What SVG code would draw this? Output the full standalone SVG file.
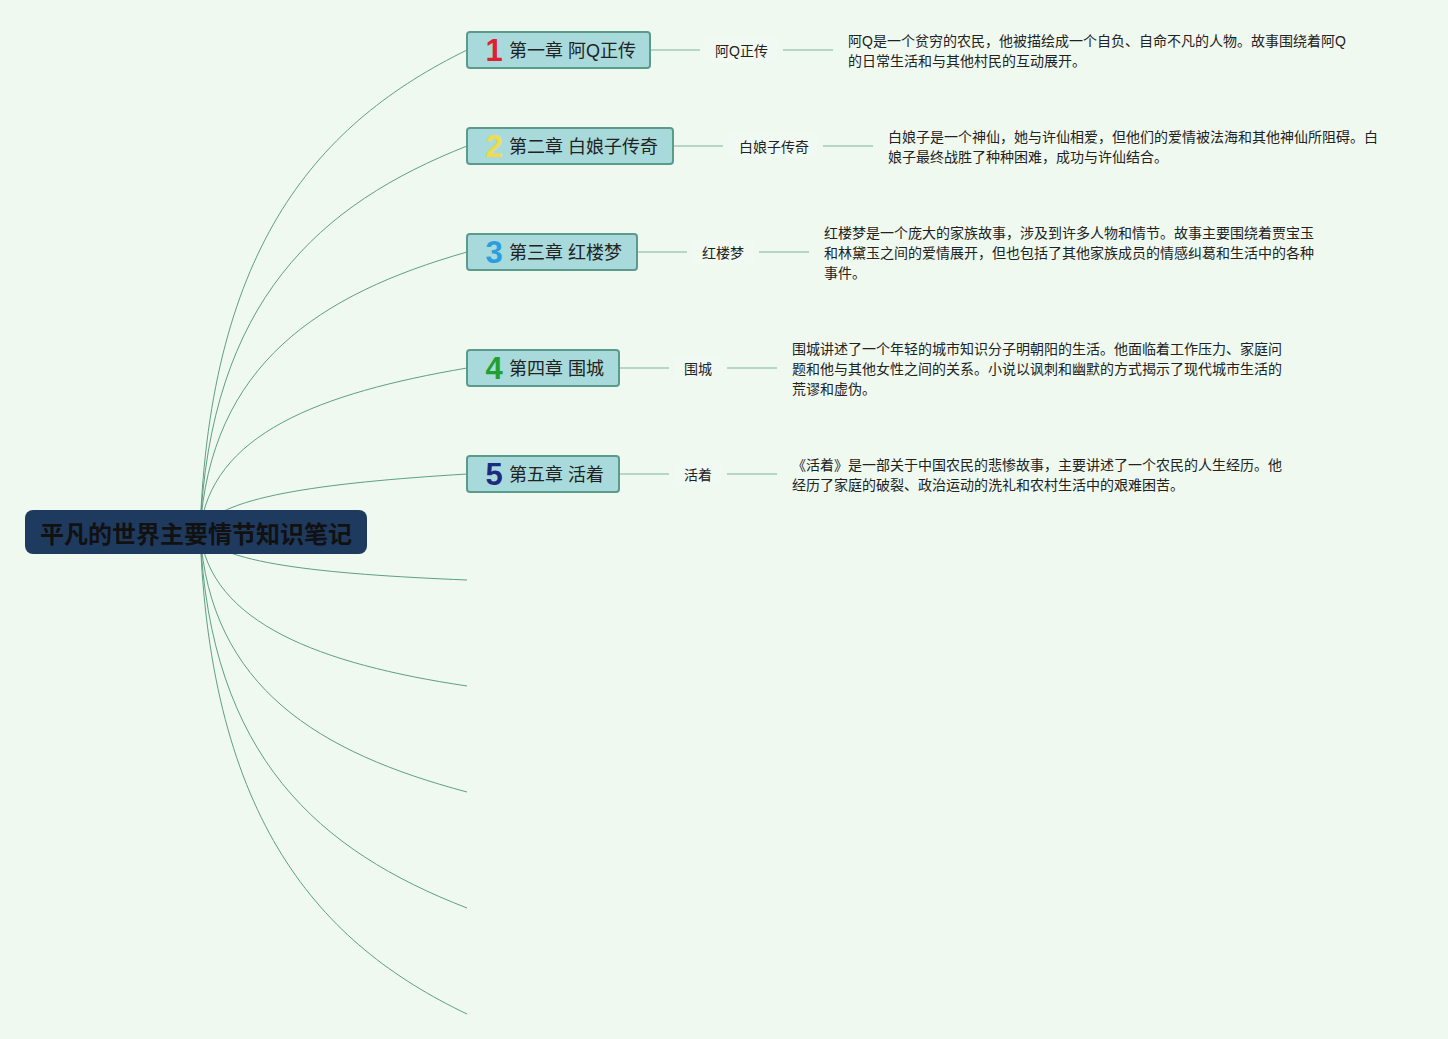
<svg xmlns="http://www.w3.org/2000/svg" width="1448" height="1039" viewBox="0 0 1448 1039">
<style>
.bg{fill:#eff9f0}
.curve{fill:none;stroke:#5f9f82;stroke-width:1}
.link{fill:none;stroke:#a3ccb6;stroke-width:1.5}
.root{fill:#1f3a5f}
.roott{font-family:"Liberation Sans","Noto Sans CJK SC",sans-serif;font-size:24px;font-weight:bold;fill:#111}
.node{fill:#a9dadb;stroke:#5c9b8c;stroke-width:2}
.nt{font-family:"Liberation Sans","Noto Sans CJK SC",sans-serif;font-size:18px;fill:#222}
.num{font-family:"Liberation Sans","DejaVu Sans",sans-serif;font-size:31px;font-weight:bold;text-anchor:middle}
.lb{fill:#f1f9f3}
.lt{font-family:"Liberation Sans","Noto Sans CJK SC",sans-serif;font-size:14px;fill:#222}
.dt{font-family:"Liberation Sans","Noto Sans CJK SC",sans-serif;font-size:14px;fill:#222}
</style>
<rect class="bg" x="0" y="0" width="1448" height="1039"/>
<g id="connectors">
<path class="curve" d="M200 532 C210 243,320 122,467 50"/>
<path class="curve" d="M200 532 C210 300,320 204,467 146"/>
<path class="curve" d="M200 532 C210 364,320 294,467 252"/>
<path class="curve" d="M200 532 C210 434,320 393,467 368"/>
<path class="curve" d="M200 532 C215 497,320 483,467 474"/>
<path class="curve" d="M200 532 C215 563,320 574,467 580"/>
<path class="curve" d="M200 532 C210 623,320 664,467 686"/>
<path class="curve" d="M200 532 C210 688,320 753,467 792"/>
<path class="curve" d="M200 532 C210 758,320 851,467 908"/>
<path class="curve" d="M200 532 C210 821,320 944,467 1014"/>
<path class="link" d="M650 50 H700 M783 50 H833"/>
<path class="link" d="M673 146 H723 M823 146 H873"/>
<path class="link" d="M637 252 H687 M759 252 H809"/>
<path class="link" d="M619 368 H669 M727 368 H777"/>
<path class="link" d="M619 474 H669 M727 474 H777"/>
</g>
<g id="root">
<rect class="root" x="25" y="510" width="342" height="44" rx="8"/>
<text class="roott" x="196" y="543" text-anchor="middle">平凡的世界主要情节知识笔记</text>
</g>
<g id="ch1">
<rect class="node" x="467" y="32" width="183" height="36" rx="3"/>
<text class="num" x="494" y="61" fill="#e01f30">1</text>
<text class="nt" x="509" y="57">第一章 阿Q正传</text>
</g>
<g id="l1">
<rect class="lb" x="705" y="38" width="73" height="24"/>
<text class="lt" x="715" y="56">阿Q正传</text>
</g>
<g id="d1">
<text class="dt" x="848" y="46">阿Q是一个贫穷的农民，他被描绘成一个自负、自命不凡的人物。故事围绕着阿Q</text>
<text class="dt" x="848" y="66">的日常生活和与其他村民的互动展开。</text>
</g>
<g id="ch2">
<rect class="node" x="467" y="128" width="206" height="36" rx="3"/>
<text class="num" x="494" y="157" fill="#f2da4c">2</text>
<text class="nt" x="509" y="153">第二章 白娘子传奇</text>
</g>
<g id="l2">
<rect class="lb" x="728" y="134" width="90" height="24"/>
<text class="lt" x="739" y="152">白娘子传奇</text>
</g>
<g id="d2">
<text class="dt" x="888" y="142">白娘子是一个神仙，她与许仙相爱，但他们的爱情被法海和其他神仙所阻碍。白</text>
<text class="dt" x="888" y="162">娘子最终战胜了种种困难，成功与许仙结合。</text>
</g>
<g id="ch3">
<rect class="node" x="467" y="234" width="170" height="36" rx="3"/>
<text class="num" x="494" y="263" fill="#2b9ee0">3</text>
<text class="nt" x="509" y="259">第三章 红楼梦</text>
</g>
<g id="l3">
<rect class="lb" x="692" y="240" width="62" height="24"/>
<text class="lt" x="702" y="258">红楼梦</text>
</g>
<g id="d3">
<text class="dt" x="824" y="238">红楼梦是一个庞大的家族故事，涉及到许多人物和情节。故事主要围绕着贾宝玉</text>
<text class="dt" x="824" y="258">和林黛玉之间的爱情展开，但也包括了其他家族成员的情感纠葛和生活中的各种</text>
<text class="dt" x="824" y="278">事件。</text>
</g>
<g id="ch4">
<rect class="node" x="467" y="350" width="152" height="36" rx="3"/>
<text class="num" x="494" y="379" fill="#22a02e">4</text>
<text class="nt" x="509" y="375">第四章 围城</text>
</g>
<g id="l4">
<rect class="lb" x="674" y="356" width="48" height="24"/>
<text class="lt" x="684" y="374">围城</text>
</g>
<g id="d4">
<text class="dt" x="792" y="354">围城讲述了一个年轻的城市知识分子明朝阳的生活。他面临着工作压力、家庭问</text>
<text class="dt" x="792" y="374">题和他与其他女性之间的关系。小说以讽刺和幽默的方式揭示了现代城市生活的</text>
<text class="dt" x="792" y="394">荒谬和虚伪。</text>
</g>
<g id="ch5">
<rect class="node" x="467" y="456" width="152" height="36" rx="3"/>
<text class="num" x="494" y="485" fill="#1c2a82">5</text>
<text class="nt" x="509" y="481">第五章 活着</text>
</g>
<g id="l5">
<rect class="lb" x="674" y="462" width="48" height="24"/>
<text class="lt" x="684" y="480">活着</text>
</g>
<g id="d5">
<text class="dt" x="792" y="470">《活着》是一部关于中国农民的悲惨故事，主要讲述了一个农民的人生经历。他</text>
<text class="dt" x="792" y="490">经历了家庭的破裂、政治运动的洗礼和农村生活中的艰难困苦。</text>
</g>
</svg>
